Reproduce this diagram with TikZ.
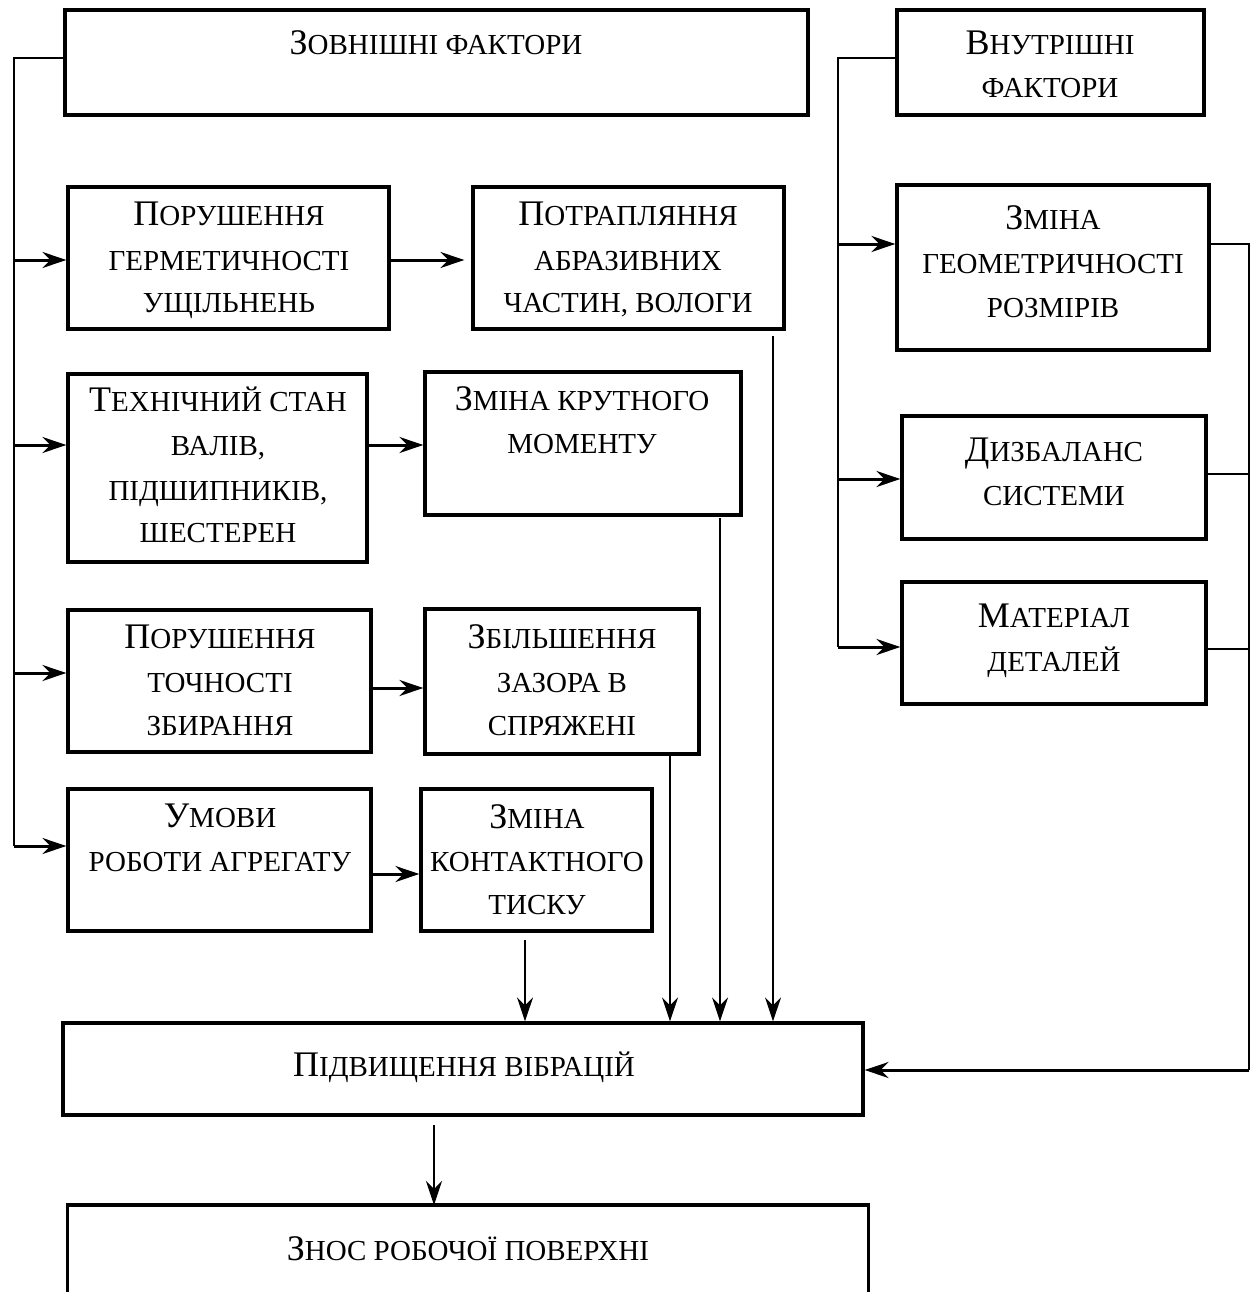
\documentclass[tikz,border=0pt]{standalone}
\usepackage{fontspec}
\setmainfont{Liberation Serif}
\usetikzlibrary{arrows.meta}
\newcommand\sct[2]{{\fontsize{36}{40}\selectfont #1}{\fontsize{29}{40}\selectfont #2}}
\newcommand\smt[1]{{\fontsize{29}{40}\selectfont #1}}
\begin{document}
\begin{tikzpicture}[x=1pt,y=-1pt,
  box/.style={draw, line width=3.2pt, inner sep=0pt},
  txt/.style={anchor=base, inner sep=0pt},
  bus/.style={line width=2pt},
  arr/.style={line width=3pt, -{Stealth[length=24pt,width=16pt,inset=8pt]}},
  varr/.style={line width=2.2pt, -{Stealth[length=24pt,width=16pt,inset=8pt]}}]
\useasboundingbox (0,0) rectangle (1257,1292);
% boxes
\node[box, minimum width=743pt, minimum height=105pt] (zov) at (436.5,62.5) {};
\node[box, minimum width=307pt, minimum height=105pt] (vnut) at (1050.5,62.5) {};
\node[box, minimum width=321pt, minimum height=142pt] (por) at (228.5,258) {};
\node[box, minimum width=311pt, minimum height=142pt] (potr) at (628.5,258) {};
\node[box, minimum width=299pt, minimum height=188pt] (tech) at (217.5,468) {};
\node[box, minimum width=316pt, minimum height=143pt] (kryt) at (583,443.5) {};
\node[box, minimum width=303pt, minimum height=142pt] (toch) at (219.5,681) {};
\node[box, minimum width=274pt, minimum height=145pt] (zaz) at (562,681.5) {};
\node[box, minimum width=303pt, minimum height=142pt] (umov) at (219.5,860) {};
\node[box, minimum width=231pt, minimum height=142pt] (kont) at (536.5,860) {};
\node[box, minimum width=312pt, minimum height=165pt] (geom) at (1053,267.5) {};
\node[box, minimum width=304pt, minimum height=123pt] (dyz) at (1054,477.5) {};
\node[box, minimum width=304pt, minimum height=122pt] (mat) at (1054,643) {};
\node[box, minimum width=800pt, minimum height=92pt] (pidv) at (463,1069) {};
\node[inner sep=0pt, minimum width=800pt, minimum height=100pt, anchor=north] (znos) at (468,1205) {};
\draw[line width=3.2pt] (znos.north west |- 0,1295) -- (znos.north west) -- (znos.north east) -- (znos.north east |- 0,1295);
% texts
\node[txt] (t-zov) at (436,55) {\sct{З}{ОВНІШНІ ФАКТОРИ}};
\node[txt] (t-vnut1) at (1050,55) {\sct{В}{НУТРІШНІ}};
\node[txt] (t-vnut2) at (1050,98) {\smt{ФАКТОРИ}};
\node[txt] (t-por1) at (229,225) {\sct{П}{ОРУШЕННЯ}};
\node[txt] (t-por2) at (229,270) {\smt{ГЕРМЕТИЧНОСТІ}};
\node[txt] (t-por3) at (229,312) {\smt{УЩІЛЬНЕНЬ}};
\node[txt] (t-potr1) at (628,225) {\sct{П}{ОТРАПЛЯННЯ}};
\node[txt] (t-potr2) at (628,270) {\smt{АБРАЗИВНИХ}};
\node[txt] (t-potr3) at (628,312) {\smt{ЧАСТИН, ВОЛОГИ}};
\node[txt] (t-tech1) at (218,411) {\sct{Т}{ЕХНІЧНИЙ СТАН}};
\node[txt] (t-tech2) at (218,455) {\smt{ВАЛІВ,}};
\node[txt] (t-tech3) at (218,500) {\smt{ПІДШИПНИКІВ,}};
\node[txt] (t-tech4) at (218,542) {\smt{ШЕСТЕРЕН}};
\node[txt] (t-kryt1) at (582,410) {\sct{З}{МІНА КРУТНОГО}};
\node[txt] (t-kryt2) at (582,453) {\smt{МОМЕНТУ}};
\node[txt] (t-toch1) at (220,648) {\sct{П}{ОРУШЕННЯ}};
\node[txt] (t-toch2) at (220,692) {\smt{ТОЧНОСТІ}};
\node[txt] (t-toch3) at (220,735) {\smt{ЗБИРАННЯ}};
\node[txt] (t-zaz1) at (562,648) {\sct{З}{БІЛЬШЕННЯ}};
\node[txt] (t-zaz2) at (562,692) {\smt{ЗАЗОРА В}};
\node[txt] (t-zaz3) at (562,735) {\smt{СПРЯЖЕНІ}};
\node[txt] (t-umov1) at (220,827) {\sct{У}{МОВИ}};
\node[txt] (t-umov2) at (220,871) {\smt{РОБОТИ АГРЕГАТУ}};
\node[txt] (t-kont1) at (537,828) {\sct{З}{МІНА}};
\node[txt] (t-kont2) at (537,871) {\smt{КОНТАКТНОГО}};
\node[txt] (t-kont3) at (537,914) {\smt{ТИСКУ}};
\node[txt] (t-geom1) at (1053,229) {\sct{З}{МІНА}};
\node[txt] (t-geom2) at (1053,273) {\smt{ГЕОМЕТРИЧНОСТІ}};
\node[txt] (t-geom3) at (1053,317) {\smt{РОЗМІРІВ}};
\node[txt] (t-dyz1) at (1054,461) {\sct{Д}{ИЗБАЛАНС}};
\node[txt] (t-dyz2) at (1054,505) {\smt{СИСТЕМИ}};
\node[txt] (t-mat1) at (1054,627) {\sct{М}{АТЕРІАЛ}};
\node[txt] (t-mat2) at (1054,671) {\smt{ДЕТАЛЕЙ}};
\node[txt] (t-pidv) at (464,1076) {\sct{П}{ІДВИЩЕННЯ ВІБРАЦІЙ}};
\node[txt] (t-znos) at (468,1260) {\sct{З}{НОС РОБОЧОЇ ПОВЕРХНІ}};
% left bus
\coordinate (lb) at (14,58);
\coordinate (lbend) at (14,846);
\draw[bus] (zov.west |- lb) -- (lb) -- (lbend);
\draw[arr] (14,260) -- (por.west |- 0,260);
\draw[arr] (14,445) -- (tech.west |- 0,445);
\draw[arr] (14,673) -- (toch.west |- 0,673);
\draw[arr] (lbend) -- (umov.west |- lbend);
% horizontal arrows
\draw[arr, shorten >=7pt] (por.east |- 0,260) -- (potr.west |- 0,260);
\draw[arr] (tech.east |- 0,445) -- (kryt.west |- 0,445);
\draw[arr] (373,688) -- (zaz.west |- 0,688);
\draw[arr] (umov.east |- 0,874) -- (kont.west |- 0,874);
% right bus (inputs)
\coordinate (rb) at (838,58);
\coordinate (rbend) at (838,647);
\draw[bus] (vnut.west |- rb) -- (rb) -- (rbend);
\draw[arr] (838,244) -- (geom.west |- 0,244);
\draw[arr] (838,479) -- (dyz.west |- 0,479);
\draw[arr] (rbend) -- (mat.west |- rbend);
% right bus (outputs)
\coordinate (ob) at (1249,244);
\coordinate (obend) at (1249,1070);
\draw[bus] (geom.east |- ob) -- (ob) -- (obend);
\draw[bus] (dyz.east |- 0,474) -- (1249,474);
\draw[bus] (mat.east |- 0,649) -- (1249,649);
\draw[arr] (obend) -- (pidv.east |- obend);
% vertical arrows into vibration box
\draw[varr] (525,940) -- (pidv.north -| 525,0);
\draw[varr] (670,754) -- (pidv.north -| 670,0);
\draw[varr] (720,518) -- (pidv.north -| 720,0);
\draw[varr] (773,336) -- (pidv.north -| 773,0);
\draw[varr] (434,1125) -- (znos.north -| 434,0);
\end{tikzpicture}
\end{document}
